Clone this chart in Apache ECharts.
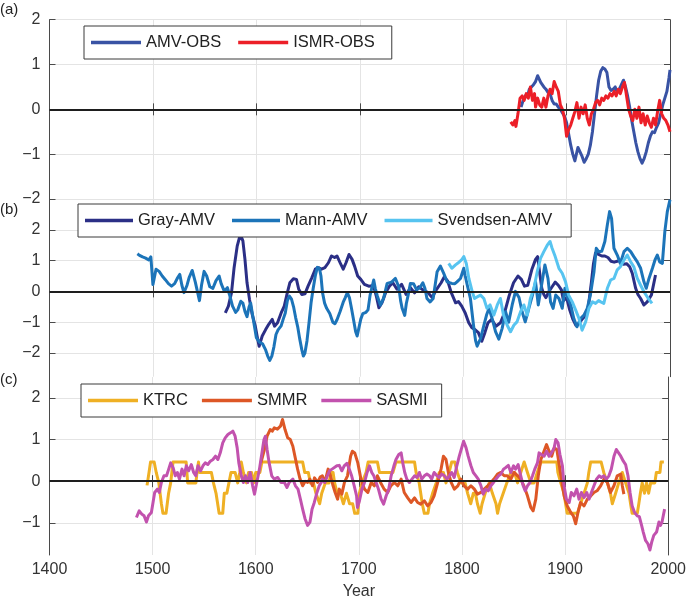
<!DOCTYPE html>
<html><head><meta charset="utf-8">
<script src="https://cdn.jsdelivr.net/npm/echarts@6/dist/echarts.min.js"></script>
<style>html,body{margin:0;padding:0;background:#fff}#c{width:689px;height:601px}</style>
</head><body><div id="c"></div><script>
// ---------- data (year, value) ----------
const amvObs = [[1856,0.05],[1858,0.2],[1860,0.3],[1862,0.28],[1864,0.45],[1866,0.5],[1868,0.55],[1870,0.62],[1872,0.75],[1873,0.7],[1875,0.6],[1876,0.62],[1878,0.5],[1880,0.45],[1882,0.38],[1884,0.35],[1886,0.2],[1888,0.12],[1890,0.12],[1892,0.05],[1894,0.0],[1896,-0.08],[1898,-0.15],[1900,-0.3],[1902,-0.55],[1904,-0.8],[1906,-1.0],[1908,-1.15],[1910,-0.95],[1911,-0.85],[1913,-0.95],[1915,-1.05],[1917,-1.18],[1919,-1.1],[1921,-1.0],[1923,-0.8],[1925,-0.5],[1927,-0.1],[1929,0.3],[1931,0.65],[1933,0.85],[1935,0.93],[1937,0.9],[1939,0.82],[1941,0.5],[1943,0.42],[1945,0.45],[1947,0.5],[1949,0.38],[1951,0.45],[1953,0.55],[1955,0.65],[1957,0.5],[1959,0.3],[1961,0.05],[1963,-0.25],[1965,-0.5],[1967,-0.75],[1969,-0.95],[1971,-1.1],[1973,-1.2],[1975,-1.1],[1977,-0.95],[1979,-0.75],[1981,-0.6],[1983,-0.5],[1985,-0.52],[1987,-0.4],[1989,-0.3],[1991,-0.1],[1993,0.1],[1995,0.25],[1997,0.4],[1999,0.7],[2000,0.88]];
const ismrObs = [[1846,-0.28],[1848,-0.35],[1850,-0.25],[1851,-0.38],[1853,-0.1],[1855,0.25],[1857,0.3],[1859,0.2],[1861,0.35],[1863,0.25],[1865,0.5],[1867,0.2],[1869,0.35],[1870,0.05],[1872,0.25],[1874,0.1],[1876,0.05],[1878,0.25],[1880,0.05],[1882,0.3],[1884,0.45],[1886,0.35],[1888,0.62],[1890,0.5],[1892,0.4],[1894,0.1],[1896,0.0],[1898,-0.2],[1900,-0.6],[1902,-0.45],[1904,-0.35],[1906,-0.2],[1908,-0.05],[1910,0.15],[1912,-0.2],[1914,0.05],[1916,-0.1],[1918,0.1],[1920,-0.2],[1922,-0.35],[1924,-0.1],[1926,0.0],[1928,0.15],[1930,0.2],[1932,0.1],[1934,0.25],[1936,0.2],[1938,0.3],[1940,0.25],[1942,0.35],[1944,0.3],[1946,0.4],[1948,0.3],[1950,0.45],[1952,0.35],[1954,0.5],[1956,0.6],[1958,0.3],[1960,0.0],[1962,-0.15],[1964,-0.25],[1966,0.0],[1968,-0.2],[1970,0.05],[1972,-0.3],[1974,-0.1],[1976,-0.35],[1978,-0.15],[1980,-0.3],[1982,-0.4],[1984,-0.2],[1986,-0.35],[1988,-0.05],[1990,0.2],[1992,-0.1],[1994,-0.2],[1996,-0.25],[1998,-0.35],[2000,-0.5]];
const grayAmv = [[1570,-0.7],[1573,-0.48],[1576,-0.04],[1578.5,0.77],[1581.5,1.47],[1584.5,1.85],[1587,1.64],[1589,1.04],[1591,0.28],[1593.4,-0.26],[1596,-0.75],[1599,-1.13],[1601,-1.5],[1602.7,-1.78],[1605.7,-1.45],[1609,-1.24],[1612,-1.07],[1615.4,-0.91],[1617.6,-1.13],[1620.5,-1.02],[1624,-0.7],[1627,-0.48],[1630,-0.04],[1632.4,0.28],[1635.8,0.41],[1638.8,0.39],[1641,0.07],[1644,-0.1],[1647,-0.08],[1650,0.17],[1653.6,0.44],[1657,0.72],[1660,0.77],[1663,0.72],[1666.3,0.77],[1669.7,0.93],[1672.7,1.15],[1675.7,1.1],[1678,1.15],[1681,0.93],[1684,0.72],[1686.7,0.93],[1689.6,1.2],[1692.6,1.04],[1695,0.82],[1698,0.5],[1701,0.39],[1704.5,0.23],[1708.7,0.17],[1712,0.18],[1714,0.1],[1716,-0.15],[1718.5,-0.53],[1721.5,-0.37],[1725,-0.04],[1728.7,0.17],[1732,0.28],[1736,0.07],[1740.5,0.23],[1744.8,-0.1],[1749,0.12],[1753,-0.05],[1757,0.15],[1761,0.05],[1766,-0.04],[1770,-0.2],[1774,0.05],[1778.7,0.28],[1781.7,0.47],[1785,0.34],[1788.5,-0.04],[1792.7,-0.37],[1795.5,-0.33],[1798.6,-0.48],[1802,-0.7],[1805.4,-1.02],[1808.4,-1.18],[1811.4,-1.24],[1814.7,-1.34],[1818,-1.62],[1821,-1.34],[1824,-1.02],[1827.5,-0.91],[1831.7,-1.13],[1836,-1.02],[1840,-0.7],[1844.4,-0.15],[1848.7,0.28],[1853,0.5],[1856.3,0.39],[1859.3,0.17],[1862.5,0.2],[1866.5,0.72],[1870,1.04],[1872,1.13],[1874,0.6],[1876,0.1],[1878,-0.1],[1880,-0.2],[1883,0.0],[1886,0.15],[1889,0.3],[1892,0.2],[1895,0.05],[1897,-0.3],[1900,-0.2],[1903,-0.6],[1906,-0.9],[1909,-1.1],[1912,-1.05],[1915,-0.9],[1918,-0.8],[1921,-0.5],[1924,0.3],[1926,0.9],[1928,1.25],[1931,1.2],[1934,1.15],[1937,1.15],[1940,1.1],[1943,0.98],[1946,0.95],[1949,0.98],[1952,1.0],[1955,0.88],[1958,0.9],[1961,0.8],[1963.5,0.59],[1966.8,0.1],[1969,-0.1],[1971.6,-0.23],[1974.8,-0.44],[1978,-0.34],[1982,-0.12],[1986,0.53]];
const mannAmv = [[1485,1.22],[1487,1.17],[1490,1.12],[1493,1.08],[1496,1.02],[1498,1.12],[1500,0.22],[1503,0.72],[1506,0.65],[1509,0.5],[1512,0.38],[1515,0.25],[1518,0.17],[1521,0.25],[1524,0.45],[1526,0.55],[1528,0.2],[1530,-0.04],[1533,0.2],[1535,0.45],[1538,0.68],[1541,0.3],[1543,0.0],[1545,-0.3],[1547,0.2],[1549.5,0.65],[1552,0.5],[1555,0.15],[1558,0.1],[1561,0.35],[1564,0.5],[1566,0.25],[1569,0.01],[1572,0.12],[1574,-0.1],[1577,-0.48],[1580,-0.68],[1582,-0.6],[1585,-0.32],[1587,-0.38],[1589,-0.65],[1591,-0.82],[1593,-0.5],[1594.5,-0.38],[1597,-0.9],[1600,-1.5],[1603,-1.65],[1606,-1.7],[1609,-1.9],[1611,-2.1],[1613,-2.24],[1615,-2.1],[1617,-1.8],[1619,-1.4],[1621,-1.25],[1624,-1.12],[1626,-0.9],[1628,-0.7],[1630,-0.3],[1632,-0.15],[1634,-0.25],[1636,-0.5],[1638,-0.85],[1640,-1.15],[1642,-1.55],[1644,-1.9],[1645.5,-2.1],[1647,-2.0],[1649,-1.6],[1651,-1.0],[1653,-0.35],[1655,0.1],[1657,0.5],[1659,0.78],[1661,0.75],[1662.5,0.5],[1664,-0.04],[1666,-0.38],[1668,-0.55],[1671,-0.72],[1674,-1.0],[1676,-1.05],[1678,-0.92],[1681,-0.65],[1684,-0.35],[1686,-0.2],[1688,-0.04],[1690,-0.2],[1692,-0.55],[1694,-0.92],[1696,-1.3],[1697.5,-1.45],[1699,-1.4],[1701,-0.9],[1703,-0.72],[1706,-0.68],[1708,-0.6],[1710,-0.12],[1713.5,0.37],[1715,0.1],[1717,-0.15],[1720,-0.45],[1723,-0.23],[1726.5,0.26],[1729,0.28],[1731,0.31],[1734.5,0.42],[1737.7,0.15],[1739.5,-0.3],[1741,-0.55],[1743.5,-0.78],[1745,-0.4],[1746.8,-0.12],[1749,0.26],[1752,0.25],[1755,0.05],[1758,0.12],[1761,0.28],[1763,0.1],[1765,-0.23],[1768,-0.34],[1771,-0.23],[1774.8,0.64],[1778,0.82],[1781,0.6],[1784.5,0.31],[1787,0.28],[1789,0.26],[1792,0.25],[1794,0.31],[1797.4,0.42],[1800.6,0.75],[1802,0.5],[1804,0.2],[1807,-0.23],[1810,-1.1],[1812,-1.6],[1813.5,-1.78],[1816.8,-1.53],[1820,-1.1],[1822.6,-0.77],[1825,-0.55],[1828,-0.88],[1831.3,-1.31],[1834.5,-1.55],[1837.7,-1.2],[1841,-0.66],[1844,-1.0],[1847.4,-0.44],[1850.6,0.0],[1854,-0.2],[1857,-0.66],[1860,-0.99],[1863.5,-0.55],[1867,-0.12],[1870,0.31],[1872.6,-0.44],[1875.8,0.2],[1879,0.86],[1882,0.42],[1884.5,-0.34],[1887,-0.55],[1889.5,-0.12],[1892.6,-0.23],[1895.8,-0.55],[1898.4,0.1],[1901,-0.2],[1904,-0.44],[1907,-0.88],[1910,-1.15],[1913.5,-0.88],[1916.8,-0.77],[1920,-0.55],[1923,-0.12],[1926.5,0.64],[1928.7,1.4],[1931,1.29],[1934,1.3],[1937,1.62],[1939.4,2.16],[1941.6,2.59],[1943.5,2.37],[1945.8,1.4],[1949,1.18],[1952,0.91],[1955.5,1.29],[1958.7,1.4],[1962,1.29],[1965,1.13],[1968.4,0.96],[1971.6,0.75],[1974.8,0.31],[1977,0.1],[1979.7,0.42],[1983,0.75],[1985.5,1.02],[1987.7,1.18],[1990,0.96],[1992.6,0.91],[1995,1.94],[1997.4,2.59],[2000,2.98]];
const svendsenAmv = [[1786,0.91],[1789,0.75],[1792.6,0.86],[1795,0.92],[1798.4,1.02],[1800.6,1.13],[1803,0.91],[1805.5,0.42],[1808.7,0.0],[1811,-0.23],[1813.5,-0.18],[1816.8,-0.12],[1820,-0.23],[1823,-0.55],[1826,-0.44],[1829.7,-0.77],[1833,-0.44],[1836,-0.23],[1839,-0.77],[1842.6,-1.1],[1845.8,-1.31],[1849,-1.1],[1852,-0.99],[1855.5,-0.66],[1858.7,-0.44],[1862,-0.77],[1865,-0.23],[1868.4,0.1],[1871.6,0.64],[1874.8,1.07],[1878,1.29],[1881.3,1.5],[1884,1.62],[1886,1.4],[1889,1.13],[1892.6,0.75],[1895.8,0.59],[1899,0.31],[1902,-0.12],[1905.5,-0.34],[1908.7,-0.6],[1912,-0.88],[1915,-1.26],[1918.4,-0.99],[1921.6,-0.55],[1925,-0.34],[1928,-0.39],[1931,-0.3],[1933,-0.34],[1936,-0.39],[1939.4,0.1],[1942.6,0.37],[1945.8,0.42],[1949,0.7],[1952,0.8],[1955.5,1.02],[1958.7,1.18],[1962,0.96],[1965,0.8],[1968.4,0.42],[1971.6,0.2],[1974.8,-0.01],[1979,-0.23],[1982.6,-0.39]];
const ktrc = [[1494.6,-0.1],[1496.5,0.21],[1498,0.46],[1501.5,0.46],[1503.5,0.21],[1506,-0.04],[1508.5,-0.54],[1510,-0.77],[1513,-0.77],[1515.5,-0.29],[1517.5,-0.04],[1519.8,0.46],[1532.5,0.46],[1534,-0.04],[1542,-0.04],[1543,0.21],[1544.5,0.46],[1545.5,0.21],[1557,0.21],[1559,-0.04],[1561.5,-0.29],[1564.5,-0.77],[1568,-0.77],[1569.5,-0.29],[1572,-0.29],[1574,-0.04],[1576,0.21],[1580,0.21],[1582.5,-0.04],[1584.5,0.21],[1586,0.46],[1588,0.21],[1591,-0.04],[1593,0.21],[1596,0.21],[1598,-0.04],[1600,0.21],[1604,0.21],[1606,0.46],[1645.5,0.46],[1647.5,0.21],[1651,0.21],[1653,-0.04],[1656,-0.04],[1658.4,-0.29],[1662,-0.54],[1664,-0.29],[1667.5,-0.04],[1671,-0.04],[1673,0.21],[1675,0.21],[1676.5,-0.04],[1679,-0.29],[1682,-0.29],[1685,-0.54],[1688,-0.29],[1691,-0.54],[1694,-0.54],[1696,-0.77],[1699,-0.77],[1700.5,-0.29],[1703,-0.04],[1707,0.21],[1709,0.46],[1718,0.46],[1720,0.21],[1733,0.21],[1736,0.46],[1754,0.46],[1755.5,0.21],[1758.5,-0.04],[1760,-0.29],[1761.5,-0.54],[1763.5,-0.77],[1767,-0.77],[1768.5,-0.54],[1771.5,-0.29],[1775,-0.04],[1778,0.21],[1782,0.21],[1784.5,-0.04],[1787.5,0.21],[1790,0.46],[1793,0.46],[1795.5,0.21],[1799,-0.04],[1803,-0.04],[1805.5,-0.29],[1808.5,-0.54],[1811,-0.29],[1813,-0.29],[1815,-0.54],[1817.7,-0.77],[1819.5,-0.54],[1822.5,-0.29],[1826.5,-0.04],[1829.5,-0.29],[1833,-0.54],[1834.5,-0.77],[1836.5,-0.54],[1840,-0.29],[1843.5,-0.04],[1847.4,0.21],[1851,0.21],[1853.9,-0.04],[1857,0.21],[1860.3,0.46],[1863.5,0.21],[1866.8,-0.04],[1870,-0.04],[1873,0.21],[1876.5,0.46],[1892,0.46],[1893,0.21],[1895.8,-0.04],[1899,-0.29],[1900.5,-0.54],[1902,-0.77],[1912,-0.77],[1915,-0.54],[1918.4,-0.29],[1921.6,-0.04],[1923,0.21],[1924.8,0.46],[1935,0.46],[1937.5,0.21],[1941,-0.04],[1944,-0.29],[1945.8,-0.54],[1949,-0.29],[1952,-0.04],[1955.5,0.21],[1957,0.21],[1958.7,-0.04],[1962,-0.29],[1963.5,-0.54],[1965,-0.77],[1970,-0.77],[1971.5,-0.54],[1973,-0.29],[1974.8,-0.04],[1977,-0.29],[1979,-0.04],[1981,-0.29],[1983,-0.04],[1987,-0.04],[1988.5,0.21],[1992,0.21],[1993,0.46],[1995.8,0.46]];
const smmr = [[1605,0.44],[1608.4,0.76],[1611,1.08],[1614,1.24],[1616,1.2],[1618,1.28],[1621,1.25],[1624,1.32],[1626,1.48],[1628.4,1.24],[1631,1.04],[1633.5,1.0],[1636,0.84],[1638,0.6],[1640.6,0.29],[1643,0.05],[1645.5,-0.11],[1648,0.0],[1650.3,-0.03],[1652.5,0.05],[1655,-0.11],[1657,0.08],[1660,-0.03],[1662.5,0.1],[1664.6,0.13],[1667,-0.03],[1670.2,0.29],[1672.5,0.13],[1675,-0.11],[1677,-0.27],[1679.4,-0.43],[1681,-0.19],[1683.5,-0.31],[1686,-0.03],[1689,0.13],[1692,0.6],[1693.7,0.72],[1696,0.68],[1699,0.44],[1702,0.05],[1705.5,-0.19],[1708.7,-0.27],[1712,-0.03],[1715,-0.11],[1718,0.13],[1721,-0.03],[1724.5,-0.19],[1728,-0.27],[1731,-0.11],[1734.5,-0.03],[1737.7,-0.11],[1741,0.05],[1744,-0.27],[1747.4,-0.4],[1750.6,-0.51],[1754,-0.4],[1757,-0.51],[1760,-0.55],[1763.5,-0.47],[1766.8,-0.59],[1770,-0.51],[1773,-0.35],[1776.5,-0.03],[1779.7,0.29],[1782,0.6],[1784.5,0.52],[1786.8,0.21],[1789.5,-0.03],[1792.6,-0.19],[1796,-0.11],[1799,0.05],[1802,-0.11],[1805.5,-0.19],[1808.7,-0.11],[1812,-0.19],[1815,-0.31],[1818.4,-0.27],[1821.6,-0.19],[1825,-0.11],[1828,-0.03],[1831,0.05],[1834.5,0.17],[1837.7,0.21],[1841,0.13],[1844,0.13],[1847.4,0.05],[1850.6,0.21],[1854,0.13],[1857,0.05],[1860,-0.11],[1863.5,-0.35],[1866.8,-0.63],[1869,-0.71],[1871.6,-0.43],[1874,0.13],[1876.5,0.52],[1879,0.68],[1882,0.88],[1884.5,0.72],[1887,0.6],[1889.4,0.8],[1892,0.76],[1894,0.44],[1896.5,0.05],[1899,-0.35],[1902,-0.59],[1905.5,-0.75],[1908,-0.83],[1910.3,-1.02],[1912.5,-0.75],[1915,-0.51],[1918.4,-0.59],[1921.6,-0.43],[1925,-0.35],[1928,-0.27],[1931,-0.23],[1934.5,-0.11],[1937.7,0.05],[1941,-0.03],[1944,-0.27],[1947.4,-0.11],[1950.6,0.13],[1954,0.17],[1955.5,-0.11],[1957,-0.31]];
const sasmi = [[1484.3,-0.87],[1487,-0.71],[1489.5,-0.79],[1491.7,-0.83],[1494,-0.98],[1496,-0.83],[1498.8,-0.75],[1500.4,-0.51],[1502,-0.27],[1504.6,-0.19],[1506.5,-0.27],[1508.5,-0.03],[1511,0.13],[1513.5,0.13],[1515.6,0.29],[1517.5,0.44],[1519.8,0.33],[1522,0.13],[1524,0.21],[1526,0.05],[1528.5,0.29],[1530.5,0.13],[1532.7,0.37],[1535,0.25],[1537.5,0.4],[1539.8,0.21],[1541.8,0.13],[1544,0.37],[1546.5,0.25],[1548.8,0.37],[1551,0.44],[1553.5,0.4],[1556,0.48],[1558.5,0.52],[1561,0.6],[1563.3,0.52],[1565.6,0.68],[1568,0.92],[1570.4,1.04],[1573,1.12],[1575.5,1.16],[1577.8,1.2],[1580,1.08],[1582,0.8],[1583.6,0.44],[1586,0.13],[1588,-0.03],[1590,0.13],[1592.3,-0.03],[1594.6,0.21],[1597,-0.11],[1598.8,-0.31],[1601,-0.03],[1603.6,0.29],[1606,0.68],[1608,1.0],[1609.4,1.08],[1611,0.76],[1613,0.44],[1615.5,0.13],[1618,0.05],[1621.4,0.09],[1624.5,-0.03],[1627.8,-0.03],[1630.3,-0.15],[1632.5,-0.03],[1636,0.05],[1638.5,-0.11],[1641,-0.19],[1643.3,-0.43],[1645.5,-0.67],[1647.8,-0.9],[1650.3,-1.06],[1652.6,-0.98],[1654.6,-0.67],[1656.8,-0.51],[1659.4,-0.27],[1661.6,-0.11],[1663.5,-0.03],[1664.6,0.05],[1667,-0.03],[1669.5,0.13],[1671.6,0.25],[1674,0.29],[1678.7,0.37],[1681,0.38],[1683.5,0.25],[1685.8,0.37],[1688.4,0.43],[1690.7,0.29],[1693,0.13],[1695.5,-0.11],[1697.8,-0.35],[1698.6,-0.63],[1700.6,-0.47],[1703,-0.19],[1705.5,-0.03],[1708,0.21],[1710.3,0.37],[1712.5,0.21],[1714.5,0.13],[1716.8,-0.03],[1719,-0.19],[1721.6,-0.43],[1724,-0.55],[1726.5,-0.35],[1729,-0.19],[1731.3,0.13],[1734,0.37],[1736,0.52],[1738.7,0.64],[1741,0.68],[1742.6,0.44],[1744.5,0.21],[1746.5,0.05],[1749,-0.03],[1751.5,0.05],[1754,0.13],[1756.5,0.09],[1758.7,0.21],[1761,0.05],[1763.5,0.13],[1766,0.17],[1768.5,0.13],[1770.6,0.05],[1773,0.21],[1775.8,0.13],[1778,0.09],[1780.3,0.17],[1783,0.13],[1785.5,0.05],[1787.7,0.13],[1790,0.21],[1792.5,0.09],[1795,0.37],[1797.4,0.6],[1799.7,0.8],[1801.6,0.96],[1804,0.8],[1806,0.6],[1808.7,0.37],[1811,0.21],[1813.5,0.13],[1815.8,0.05],[1818.4,-0.11],[1820.6,-0.31],[1823,-0.19],[1825.5,-0.23],[1828,-0.11],[1830.6,-0.03],[1833,0.05],[1835.5,0.13],[1837.7,0.17],[1840.3,0.29],[1842.6,0.33],[1845,0.38],[1847.4,0.21],[1850,0.37],[1852,0.29],[1854.5,0.4],[1857,0.13],[1859.4,-0.11],[1861.3,-0.23],[1863.5,-0.11],[1866,-0.03],[1868.4,0.13],[1870.6,0.29],[1873.2,0.44],[1874.8,0.68],[1877,0.64],[1879.7,0.6],[1882,0.72],[1884.5,0.6],[1886.8,0.68],[1889.4,0.8],[1891,1.0],[1893.2,0.92],[1895,0.64],[1897.4,0.37],[1899,-0.11],[1901.3,-0.43],[1904,-0.51],[1906,-0.27],[1908.7,-0.35],[1911.3,-0.19],[1913.5,-0.43],[1915.8,-0.27],[1918.4,-0.39],[1921,-0.27],[1923.2,-0.43],[1925.5,-0.27],[1928,-0.11],[1930.5,0.05],[1933,0.13],[1935.2,0.09],[1937.7,0.13],[1940,0.05],[1942.5,0.13],[1944.8,0.29],[1947.4,0.6],[1949.7,0.76],[1951.6,0.8],[1954,0.6],[1956.5,0.48],[1958.7,0.4],[1961,0.13],[1963,-0.27],[1965,-0.59],[1967.4,-0.75],[1970,-0.83],[1972,-0.85],[1974.2,-1.06],[1975.8,-1.22],[1978,-1.42],[1980.3,-1.5],[1982.3,-1.65],[1984,-1.46],[1986,-1.3],[1988.7,-1.22],[1991,-0.98],[1992.5,-1.06],[1994,-0.98],[1996.5,-0.67]];

// ---------- axes ----------
const xRange = [1400, 2000];
const xStep = 100;
const yRanges = [[-2, 2], [-2.77, 3], [-1.77, 2.5]];
const yTicks = [[-2, -1, 0, 1, 2], [-2, -1, 0, 1, 2], [-1, 0, 1, 2]];
const panelLabels = ['(a)', '(b)', '(c)'];

const FONT = '"Liberation Sans", Arial, Helvetica, sans-serif';
const FRAME = '#4a4a4a';
const GRIDC = '#e4e4e4';
const grids = [
  { left: 49.5, top: 19.7, width: 620.5, height: 179.3 },
  { left: 49.5, top: 199, width: 620.5, height: 177.7 },
  { left: 49.5, top: 377, width: 620.5, height: 179.7 }
];
const fmt = v => (v < 0 ? '\u2212' + Math.abs(v) : String(v));

const xAxis = [], yAxis = [];
grids.forEach((g, i) => {
  const isLast = i === grids.length - 1;
  xAxis.push({
    type: 'value', gridIndex: i, min: xRange[0], max: xRange[1], interval: xStep, position: 'bottom',
    axisLine: { show: true, lineStyle: { color: FRAME, width: 1 } },
    axisTick: { show: true, inside: true, length: 6, lineStyle: { color: FRAME } },
    axisLabel: { show: isLast, color: '#333', fontSize: 16, fontFamily: FONT, margin: 7, formatter: v => String(v) },
    splitLine: { show: true, lineStyle: { color: GRIDC, width: 1 } },
    name: isLast ? 'Year' : '', nameLocation: 'middle', nameGap: 29,
    nameTextStyle: { color: '#333', fontSize: 16, fontFamily: FONT }
  });
  xAxis.push({
    type: 'value', gridIndex: i, min: xRange[0], max: xRange[1], interval: xStep, position: 'top',
    axisLine: { show: true, lineStyle: { color: FRAME, width: 1 } },
    axisTick: { show: true, inside: true, length: 6, lineStyle: { color: FRAME } },
    axisLabel: { show: false }, splitLine: { show: false }
  });
  yAxis.push({
    type: 'value', gridIndex: i, min: yRanges[i][0], max: yRanges[i][1], position: 'left',
    axisLine: { show: true, lineStyle: { color: FRAME, width: 1 } },
    axisTick: { show: true, inside: true, length: 6, customValues: yTicks[i], lineStyle: { color: FRAME } },
    axisLabel: { show: true, customValues: yTicks[i], formatter: fmt, color: '#333', fontSize: 16, fontFamily: FONT, margin: 9 },
    splitLine: { show: true, lineStyle: { color: GRIDC, width: 1 } }
  });
  yAxis.push({
    type: 'value', gridIndex: i, min: yRanges[i][0], max: yRanges[i][1], position: 'right',
    axisLine: { show: true, lineStyle: { color: FRAME, width: 1 } },
    axisTick: { show: true, inside: true, length: 6, customValues: yTicks[i], lineStyle: { color: FRAME } },
    axisLabel: { show: false }, splitLine: { show: false }
  });
});

function line(name, data, color, gi, z) {
  return {
    name, type: 'line', data, xAxisIndex: gi * 2, yAxisIndex: gi * 2,
    showSymbol: false, symbol: 'none', smooth: false, z: z,
    lineStyle: { color, width: 3, join: 'round' }, itemStyle: { color },
    silent: true, animation: false, clip: true
  };
}
function zeroLine(gi) {
  return {
    name: 'zero' + gi, type: 'line', data: [], xAxisIndex: gi * 2, yAxisIndex: gi * 2, z: 10,
    markLine: { silent: true, symbol: 'none', label: { show: false }, animation: false,
      lineStyle: { color: '#1e1e1e', width: 2, type: 'solid' }, data: [{ yAxis: 0 }] }
  };
}

const series = [
  line('AMV-OBS', amvObs, '#3953a4', 0, 2),
  line('ISMR-OBS', ismrObs, '#ec1f28', 0, 3),
  line('Gray-AMV', grayAmv, '#2b2f86', 1, 2),
  line('Mann-AMV', mannAmv, '#1c74b9', 1, 3),
  line('Svendsen-AMV', svendsenAmv, '#57c4f0', 1, 4),
  line('KTRC', ktrc, '#efb024', 2, 2),
  line('SMMR', smmr, '#dd5726', 2, 3),
  line('SASMI', sasmi, '#c252ae', 2, 4),
  zeroLine(0), zeroLine(1), zeroLine(2)
];

function legend(names, left, top, itemWidth, itemGap, padRight) {
  return {
    data: names, left, top, orient: 'horizontal', icon: 'rect',
    itemWidth, itemHeight: 3.5, itemGap, selectedMode: false,
    padding: [8, padRight, 8, 7], borderColor: '#3a3a3a', borderWidth: 1, backgroundColor: '#fff',
    textStyle: { fontSize: 16.5, color: '#222', fontFamily: FONT, lineHeight: 16 }
  };
}

const option = {
  animation: false,
  backgroundColor: '#fff',
  grid: grids.map(g => Object.assign({ containLabel: false }, g)),
  xAxis, yAxis, series,
  legend: [
    legend(['AMV-OBS', 'ISMR-OBS'], 84, 26, 50, 17, 17),
    legend(['Gray-AMV', 'Mann-AMV', 'Svendsen-AMV'], 78, 204, 48, 17, 19),
    legend(['KTRC', 'SMMR', 'SASMI'], 81, 384, 50, 14, 14)
  ],
  graphic: [
    { type: 'text', left: 0, top: 2, style: { text: panelLabels[0], font: '15px ' + FONT, fill: '#222' } },
    { type: 'text', left: 0, top: 202, style: { text: panelLabels[1], font: '15px ' + FONT, fill: '#222' } },
    { type: 'text', left: 0, top: 372, style: { text: panelLabels[2], font: '15px ' + FONT, fill: '#222' } }
  ]
};
const chart = echarts.init(document.getElementById('c'), null, { renderer: 'canvas' });
chart.setOption(option);
</script></body></html>
